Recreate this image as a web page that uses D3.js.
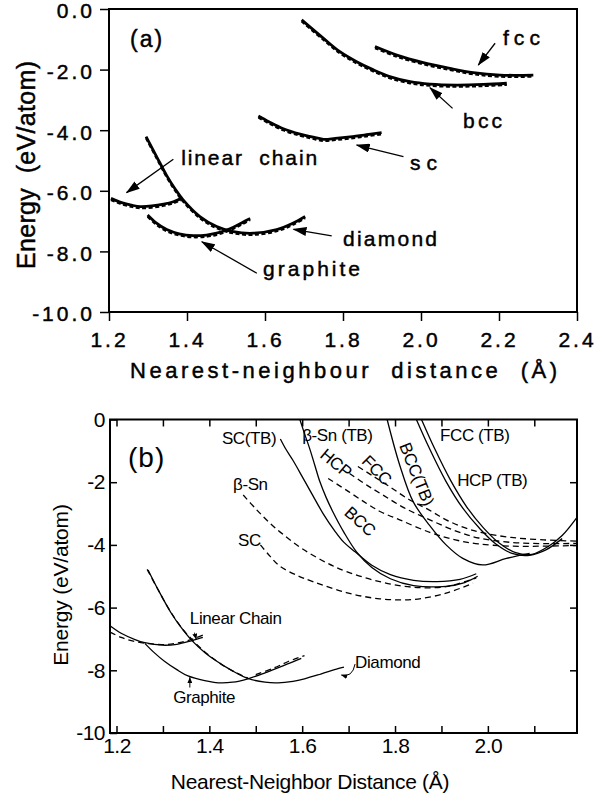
<!DOCTYPE html>
<html>
<head>
<meta charset="utf-8">
<script src="https://cdn.jsdelivr.net/npm/d3@7"></script>
<style>
  body { margin: 0; background: #fff; }
  svg { display: block; }
  text { font-family: "Liberation Sans", Arial, Helvetica, sans-serif; fill: #000; }
</style>
</head>
<body>
<div id="chart"></div>
<script>
// ---- panel (a): energy (eV/atom) vs nearest-neighbour distance (A)
var xTicksA = [1.2, 1.4, 1.6, 1.8, 2.0, 2.2, 2.4];
var yTicksA = [0, -2, -4, -6, -8, -10];

var fccA = [[1.882,-1.24],[1.938,-1.52],[2.006,-1.77],[2.074,-1.96],[2.134,-2.10],[2.203,-2.18],[2.288,-2.18]];
var bccA = [[1.694,-0.36],[1.75,-0.97],[1.792,-1.41],[1.835,-1.74],[1.878,-2.01],[1.92,-2.23],[1.972,-2.40],[2.023,-2.48],[2.092,-2.51],[2.16,-2.49],[2.22,-2.45]];
var scA = [[1.583,-3.53],[1.61,-3.72],[1.647,-3.95],[1.69,-4.13],[1.72,-4.22],[1.75,-4.30],[1.78,-4.27],[1.818,-4.22],[1.86,-4.15],[1.899,-4.08]];
var linearA = [[1.205,-6.25],[1.23,-6.38],[1.26,-6.48],[1.28,-6.52],[1.31,-6.50],[1.34,-6.44],[1.365,-6.36],[1.386,-6.25]];
var graphiteA = [[1.299,-6.80],[1.32,-7.05],[1.348,-7.28],[1.38,-7.42],[1.416,-7.48],[1.45,-7.46],[1.476,-7.40],[1.50,-7.30],[1.519,-7.20],[1.54,-7.06],[1.562,-6.91]];
var diamondA = [[1.295,-4.21],[1.322,-4.87],[1.348,-5.50],[1.37,-5.95],[1.39,-6.30],[1.433,-6.85],[1.476,-7.18],[1.519,-7.35],[1.57,-7.40],[1.63,-7.28],[1.67,-7.08],[1.703,-6.85]];

var curvesA = [fccA, bccA, scA, linearA, graphiteA, diamondA];

// label text, x, E, width
var labelsA = [
  ["fcc", 2.21, -1.19, 37],
  ["bcc", 2.108, -3.93, 39],
  ["sc", 1.972, -5.31, 27],
  ["linear  chain", 1.385, -5.15, 136],
  ["diamond", 1.80, -7.82, 94],
  ["graphite", 1.595, -8.81, 97]
];
// arrow from (x1,E1) to tip (x2,E2)
var arrowsA = [
  [2.19, -1.13, 2.147, -1.85],
  [2.081, -3.28, 2.023, -2.60],
  [1.955, -4.87, 1.835, -4.49],
  [1.365, -4.96, 1.245, -6.06],
  [1.771, -7.49, 1.673, -7.27],
  [1.579, -8.72, 1.438, -7.68]
];

// ---- panel (b): TB (solid) and LDA (dashed)
var xTicksB = [1.2, 1.3, 1.4, 1.5, 1.6, 1.7, 1.8, 1.9, 2.0, 2.1];
var xLabelsB = [1.2, 1.4, 1.6, 1.8, 2.0];
var yTicksB = [0, -2, -4, -6, -8, -10];

var scTB = [[1.553,-0.62],[1.565,-0.95],[1.58,-1.30],[1.60,-1.82],[1.62,-2.35],[1.645,-3.00],[1.67,-3.55],[1.69,-3.92],[1.714,-4.22],[1.75,-4.65],[1.79,-4.95],[1.84,-5.13],[1.89,-5.17],[1.94,-5.10],[1.975,-4.92]];
var bsnTB = [[1.595,0.0],[1.605,-0.45],[1.616,-0.92],[1.627,-1.45],[1.638,-1.98],[1.652,-2.50],[1.666,-2.94],[1.69,-3.60],[1.717,-4.22],[1.75,-4.72],[1.79,-5.08],[1.84,-5.30],[1.91,-5.32],[1.95,-5.20],[1.978,-5.00]];
var bccTB = [[1.783,0.0],[1.81,-1.45],[1.839,-2.62],[1.874,-3.37],[1.91,-4.00],[1.946,-4.43],[1.989,-4.64],[2.04,-4.43],[2.09,-4.27]];
var fccTB = [[1.846,0.0],[1.874,-0.92],[1.91,-1.98],[1.946,-2.83],[1.982,-3.47],[2.018,-3.98],[2.054,-4.28],[2.09,-4.33],[2.126,-4.15],[2.16,-3.80]];
var hcpTB = [[1.857,0.0],[1.885,-0.92],[1.92,-1.95],[1.955,-2.80],[1.99,-3.45],[2.025,-3.95],[2.06,-4.25],[2.095,-4.30],[2.13,-4.05],[2.16,-3.70],[2.192,-3.12]];
var linearTB = [[1.186,-6.58],[1.21,-6.82],[1.24,-7.02],[1.261,-7.12],[1.30,-7.20],[1.33,-7.17],[1.361,-7.06],[1.386,-6.95]];
var graphiteTB = [[1.261,-7.14],[1.28,-7.42],[1.304,-7.72],[1.33,-7.98],[1.354,-8.18],[1.39,-8.33],[1.42,-8.40],[1.45,-8.38],[1.483,-8.27],[1.52,-8.08],[1.56,-7.85],[1.598,-7.62]];
var diamondTB = [[1.268,-4.80],[1.29,-5.44],[1.318,-6.18],[1.34,-6.65],[1.361,-7.03],[1.39,-7.43],[1.412,-7.67],[1.45,-8.02],[1.483,-8.26],[1.52,-8.38],[1.548,-8.40],[1.58,-8.35],[1.605,-8.27],[1.64,-8.12],[1.677,-7.95],[1.69,-7.90]];

var bsnLDA = [[1.473,-2.41],[1.50,-2.85],[1.53,-3.30],[1.56,-3.68],[1.60,-4.12],[1.65,-4.55],[1.695,-4.85],[1.767,-5.17],[1.839,-5.35],[1.91,-5.33],[1.975,-5.05]];
var scLDA = [[1.51,-4.00],[1.53,-4.35],[1.552,-4.68],[1.59,-4.98],[1.623,-5.17],[1.695,-5.52],[1.767,-5.72],[1.839,-5.74],[1.91,-5.54],[1.968,-5.22]];
var fccLDA = [[1.72,-1.50],[1.75,-1.78],[1.788,-2.14],[1.83,-2.55],[1.875,-2.90],[1.91,-3.20],[1.95,-3.45],[1.99,-3.62],[2.05,-3.76],[2.12,-3.84],[2.192,-3.88]];
var hcpLDA = [[1.702,-1.72],[1.74,-2.10],[1.774,-2.41],[1.82,-2.82],[1.875,-3.20],[1.93,-3.55],[1.98,-3.78],[2.05,-3.92],[2.12,-3.96],[2.192,-3.95]];
var bccLDA = [[1.656,-1.88],[1.70,-2.30],[1.738,-2.67],[1.77,-2.95],[1.81,-3.20],[1.875,-3.60],[1.93,-3.84],[1.98,-3.97],[2.05,-4.04],[2.12,-4.04],[2.192,-4.02]];
var linearLDA = [[1.186,-6.78],[1.21,-6.95],[1.24,-7.08],[1.27,-7.15],[1.30,-7.18],[1.33,-7.13],[1.36,-7.02],[1.39,-6.85]];
var graphiteLDA = [[1.50,-8.14],[1.54,-7.92],[1.57,-7.72],[1.605,-7.53]];
var diamondLDA = [[1.266,-4.78],[1.287,-5.36],[1.312,-6.02],[1.34,-6.64],[1.37,-7.13],[1.40,-7.53],[1.44,-7.94],[1.483,-8.25]];

var solidB = [scTB, bsnTB, bccTB, fccTB, hcpTB, linearTB, graphiteTB, diamondTB];
var dashedB = [bsnLDA, scLDA, fccLDA, hcpLDA, bccLDA, linearLDA, graphiteLDA, diamondLDA];

// label text, x, E
var labelsB = [
  ["SC(TB)", 1.427, -0.78],
  ["β-Sn", 1.451, -2.25],
  ["SC", 1.462, -4.04],
  ["β-Sn (TB)", 1.600, -0.69],
  ["FCC (TB)", 1.897, -0.69],
  ["HCP (TB)", 1.934, -2.12],
  ["Linear Chain", 1.358, -6.52],
  ["Graphite", 1.322, -9.04],
  ["Diamond", 1.714, -7.93]
];
// rotated labels: text, centre x, centre E, angle
var rotLabelsB = [
  ["HCP", 1.673, -1.39, 40],
  ["FCC", 1.761, -1.61, 45],
  ["BCC", 1.725, -3.24, 42],
  ["BCC(TB)", 1.847, -1.74, 68]
];
var arrowsB = [
  [1.358, -8.55, 1.358, -8.22],
  [1.368, -6.80, 1.372, -7.02]
];

var width = 596, height = 797;
var svg = d3.select("#chart").append("svg")
  .attr("width", width)
  .attr("height", height);

var defs = svg.append("defs");
defs.append("marker")
  .attr("id", "headA")
  .attr("viewBox", "0 0 14 9")
  .attr("refX", 13).attr("refY", 4.5)
  .attr("markerWidth", 14).attr("markerHeight", 9)
  .attr("markerUnits", "userSpaceOnUse")
  .attr("orient", "auto")
  .append("path").attr("d", "M0,0 L14,4.5 L0,9 z");
defs.append("marker")
  .attr("id", "headB")
  .attr("viewBox", "0 0 6 5")
  .attr("refX", 6).attr("refY", 2.5)
  .attr("markerWidth", 6).attr("markerHeight", 5)
  .attr("markerUnits", "userSpaceOnUse")
  .attr("orient", "auto")
  .append("path").attr("d", "M0,0 L6,2.5 L0,5 z");

function styleAxis(g, size, spacing) {
  g.attr("font-family", null).attr("font-size", null);
  g.select(".domain").remove();
  g.selectAll("line").attr("stroke", "#000").attr("stroke-width", 1.5);
  g.selectAll("text").attr("fill", "#000").attr("font-size", size).attr("letter-spacing", spacing);
}

// ================= panel (a) =================
var xA = d3.scaleLinear().domain([1.2, 2.4]).range([109, 577]);
var yA = d3.scaleLinear().domain([0, -10]).range([9, 312]);

var gA = svg.append("g");

gA.append("g")
  .attr("transform", "translate(0," + yA(-10) + ")")
  .call(d3.axisBottom(xA).tickValues(xTicksA).tickSize(9).tickPadding(11)
    .tickFormat(function (d) { return d.toFixed(1); }))
  .call(styleAxis, 21, 3);

gA.append("g")
  .attr("transform", "translate(" + xA(1.2) + ",0)")
  .call(d3.axisLeft(yA).tickValues(yTicksA).tickSize(9).tickPadding(5)
    .tickFormat(function (d) { return d.toFixed(1); }))
  .call(styleAxis, 21, 3)
  .selectAll("text").attr("dy", "0.42em");

gA.append("rect")
  .attr("x", xA(1.2)).attr("y", yA(0))
  .attr("width", xA(2.4) - xA(1.2)).attr("height", yA(-10) - yA(0))
  .attr("fill", "none").attr("stroke", "#000").attr("stroke-width", 2);

var lineA = d3.line()
  .x(function (d) { return xA(d[0]); })
  .y(function (d) { return yA(d[1]); })
  .curve(d3.curveCatmullRom);

gA.selectAll("path.dashA").data(curvesA).enter().append("path")
  .attr("class", "dashA")
  .attr("d", lineA)
  .attr("transform", "translate(0,1.6)")
  .attr("fill", "none").attr("stroke", "#000")
  .attr("stroke-width", 2.2).attr("stroke-dasharray", "4,2.5");

gA.selectAll("path.solidA").data(curvesA).enter().append("path")
  .attr("class", "solidA")
  .attr("d", lineA)
  .attr("fill", "none").attr("stroke", "#000")
  .attr("stroke-width", 2.8);

gA.selectAll("line.arrowA").data(arrowsA).enter().append("line")
  .attr("class", "arrowA")
  .attr("x1", function (d) { return xA(d[0]); })
  .attr("y1", function (d) { return yA(d[1]); })
  .attr("x2", function (d) { return xA(d[2]); })
  .attr("y2", function (d) { return yA(d[3]); })
  .attr("stroke", "#000").attr("stroke-width", 1.3)
  .attr("marker-end", "url(#headA)");

gA.selectAll("text.labA").data(labelsA).enter().append("text")
  .attr("class", "labA")
  .attr("x", function (d) { return xA(d[1]); })
  .attr("y", function (d) { return yA(d[2]); })
  .attr("font-size", 21)
  .attr("textLength", function (d) { return d[3]; })
  .attr("lengthAdjust", "spacing")
  .style("white-space", "pre")
  .text(function (d) { return d[0]; });

gA.append("text")
  .attr("x", xA(1.254)).attr("y", yA(-1.25))
  .attr("font-size", 23).attr("letter-spacing", 2)
  .text("(a)");

gA.append("text")
  .attr("x", 130).attr("y", 378)
  .attr("font-size", 22)
  .attr("textLength", 427).attr("lengthAdjust", "spacing")
  .style("white-space", "pre")
  .text("Nearest-neighbour  distance  (Å)");

gA.append("text")
  .attr("transform", "translate(35,165) rotate(-90)")
  .attr("text-anchor", "middle")
  .attr("font-size", 25)
  .attr("textLength", 208).attr("lengthAdjust", "spacing")
  .style("white-space", "pre")
  .text("Energy  (eV/atom)");

// heavier print look for panel (a) lettering
gA.selectAll("text").attr("stroke", "#000").attr("stroke-width", 0.45);

// ================= panel (b) =================
var xB = d3.scaleLinear().domain([1.186, 2.192]).range([110, 577]);
var yB = d3.scaleLinear().domain([0, -10]).range([419.5, 733]);

var gB = svg.append("g");

gB.append("g")
  .attr("transform", "translate(0," + yB(-10) + ")")
  .call(d3.axisBottom(xB).tickValues(xTicksB).tickSize(-7).tickPadding(5)
    .tickFormat(function (d) { return xLabelsB.indexOf(d) >= 0 ? d.toFixed(1) : ""; }))
  .call(styleAxis, 21, -0.5);

gB.append("g")
  .attr("transform", "translate(0," + yB(0) + ")")
  .call(d3.axisTop(xB).tickValues(xTicksB).tickSize(-7).tickFormat(""))
  .call(styleAxis, 21, 0);

gB.append("g")
  .attr("transform", "translate(" + xB(1.186) + ",0)")
  .call(d3.axisLeft(yB).tickValues(yTicksB).tickSize(-7).tickPadding(5)
    .tickFormat(function (d) { return String(d); }))
  .call(styleAxis, 21, -0.5);

gB.append("g")
  .attr("transform", "translate(" + xB(2.192) + ",0)")
  .call(d3.axisRight(yB).tickValues([-2, -4, -6, -8]).tickSize(-7).tickFormat(""))
  .call(styleAxis, 21, 0);

gB.append("rect")
  .attr("x", xB(1.186)).attr("y", yB(0))
  .attr("width", xB(2.192) - xB(1.186)).attr("height", yB(-10) - yB(0))
  .attr("fill", "none").attr("stroke", "#000").attr("stroke-width", 2);

var lineB = d3.line()
  .x(function (d) { return xB(d[0]); })
  .y(function (d) { return yB(d[1]); })
  .curve(d3.curveCatmullRom);

gB.selectAll("path.solidB").data(solidB).enter().append("path")
  .attr("class", "solidB")
  .attr("d", lineB)
  .attr("fill", "none").attr("stroke", "#000").attr("stroke-width", 1.3);

gB.selectAll("path.dashB").data(dashedB).enter().append("path")
  .attr("class", "dashB")
  .attr("d", lineB)
  .attr("fill", "none").attr("stroke", "#000").attr("stroke-width", 1.3)
  .attr("stroke-dasharray", "6,4");

gB.selectAll("line.arrowB").data(arrowsB).enter().append("line")
  .attr("class", "arrowB")
  .attr("x1", function (d) { return xB(d[0]); })
  .attr("y1", function (d) { return yB(d[1]); })
  .attr("x2", function (d) { return xB(d[2]); })
  .attr("y2", function (d) { return yB(d[3]); })
  .attr("stroke", "#000").attr("stroke-width", 1)
  .attr("marker-end", "url(#headB)");

// curved pointer from "Diamond" to its curve
gB.append("path")
  .attr("d", "M" + xB(1.714) + "," + yB(-7.80) +
    " Q" + xB(1.708) + "," + yB(-8.25) + " " + xB(1.684) + "," + yB(-8.15))
  .attr("fill", "none").attr("stroke", "#000").attr("stroke-width", 1)
  .attr("marker-end", "url(#headB)");

gB.selectAll("text.labB").data(labelsB).enter().append("text")
  .attr("class", "labB")
  .attr("x", function (d) { return xB(d[1]); })
  .attr("y", function (d) { return yB(d[2]); })
  .attr("font-size", 17).attr("letter-spacing", -0.4)
  .text(function (d) { return d[0]; });

gB.selectAll("text.rotB").data(rotLabelsB).enter().append("text")
  .attr("class", "rotB")
  .attr("transform", function (d) {
    return "translate(" + xB(d[1]) + "," + yB(d[2]) + ") rotate(" + d[3] + ")";
  })
  .attr("text-anchor", "middle").attr("dy", "0.35em")
  .attr("font-size", 17).attr("letter-spacing", -0.4)
  .text(function (d) { return d[0]; });

gB.append("text")
  .attr("x", 128).attr("y", 467)
  .attr("font-size", 28).attr("letter-spacing", 1)
  .text("(b)");

gB.append("text")
  .attr("x", 310).attr("y", 789)
  .attr("text-anchor", "middle")
  .attr("font-size", 21).attr("letter-spacing", -0.3)
  .text("Nearest-Neighbor Distance (Å)");

gB.append("text")
  .attr("transform", "translate(68,585) rotate(-90)")
  .attr("text-anchor", "middle")
  .attr("font-size", 21).attr("letter-spacing", -0.2)
  .text("Energy (eV/atom)");
</script>
</body>
</html>
